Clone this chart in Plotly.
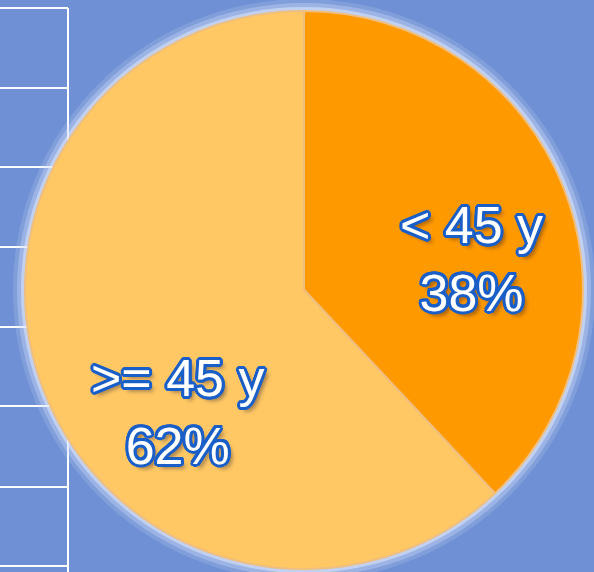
import math
import plotly.graph_objects as go

# Data
labels = ["< 45 y", ">= 45 y"]
values = [38, 62]
slice_colors = ["#FF9900", "#FFC864"]

W, H = 594, 572
cx, cy, r = 304, 290, 279  # pixel geometry of the pie

def px_x(x):
    return x / W

def px_y(y):
    return 1 - y / H

stroke = "#1a5fc8"
offs = []
for k in range(16):
    a = 2 * math.pi * k / 16
    offs.append((round(3 * math.cos(a), 1), round(3 * math.sin(a), 1)))
shadow = ", ".join(f"{dx}px {dy}px 0 {stroke}" for dx, dy in offs) + \
    ", 4px 4px 4px rgba(0,0,40,0.45)"

fig = go.Figure(
    go.Pie(
        labels=labels,
        values=values,
        sort=False,
        direction="clockwise",
        rotation=0,
        marker=dict(colors=slice_colors, line=dict(color="#eebf80", width=2)),
        textinfo="none",
        showlegend=False,
        hoverinfo="label+percent",
        domain=dict(x=[px_x(cx - r), px_x(cx + r)], y=[px_y(cy + r), px_y(cy - r)]),
    )
)

# label placement: angle (deg clockwise from top) and radius fraction per slice
label_angle = [79.6, 225.9]
label_rfrac = [0.61, 0.63]
total = sum(values)
annotations = []
for lab, v, ang, rf in zip(labels, values, label_angle, label_rfrac):
    a = math.radians(ang)
    x = cx + rf * r * math.sin(a)
    y = cy - rf * r * math.cos(a)
    annotations.append(dict(
        x=px_x(x), y=px_y(y), xref="paper", yref="paper",
        text=f"{lab}<br>{round(100 * v / total)}%",
        showarrow=False, xanchor="center", yanchor="middle", align="center",
        font=dict(family="Liberation Sans, Arial, sans-serif", size=52,
                  color="#ffffff", shadow=shadow),
    ))

shapes = []
# table grid lines on the left
for y in [8, 88, 167, 247, 327, 406, 487, 566]:
    shapes.append(dict(type="line", xref="paper", yref="paper", x0=0, x1=px_x(68),
                       y0=px_y(y), y1=px_y(y), line=dict(color="#ffffff", width=2), layer="below"))
shapes.append(dict(type="line", xref="paper", yref="paper", x0=px_x(68), x1=px_x(68),
                   y0=px_y(8), y1=0, line=dict(color="#ffffff", width=2), layer="below"))
# halo around the pie
for dr, col in [(12, "rgba(200,215,245,0.2)"), (8, "rgba(210,222,248,0.35)"), (4, "rgba(225,233,250,0.55)")]:
    shapes.append(dict(type="circle", xref="paper", yref="paper",
                       x0=px_x(cx - r - dr), x1=px_x(cx + r + dr),
                       y0=px_y(cy + r + dr), y1=px_y(cy - r - dr),
                       fillcolor=col, line=dict(width=0), layer="below"))

fig.update_layout(
    width=W, height=H,
    margin=dict(l=0, r=0, t=0, b=0),
    paper_bgcolor="#6f90d4",
    plot_bgcolor="#6f90d4",
    shapes=shapes,
    annotations=annotations,
)

fig.write_html("out.html", config={"displayModeBar": False},
               post_script="document.body.style.margin='0px';")
